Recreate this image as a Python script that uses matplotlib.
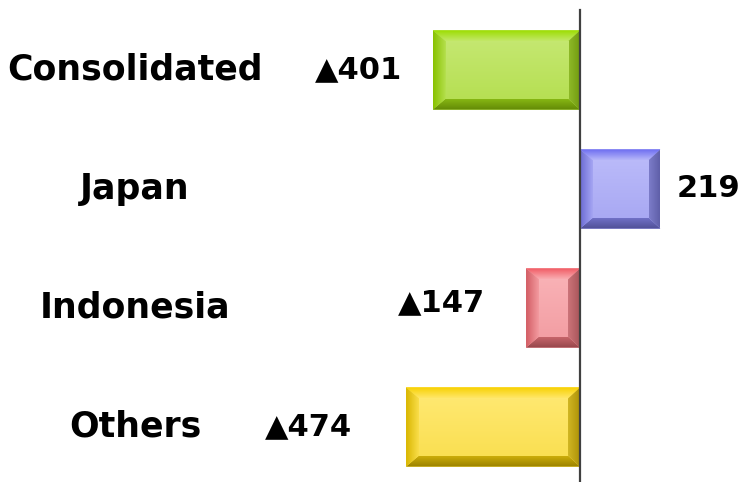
import matplotlib
matplotlib.use("Agg")
import matplotlib.pyplot as plt
from matplotlib.patches import Polygon
from matplotlib.colors import to_rgb, rgb_to_hsv, hsv_to_rgb
import numpy as np

# Year-on-year change by segment
categories = ["Consolidated", "Japan", "Indonesia", "Others"]
values = [-401, 219, -147, -474]

# Styling
face_colors = ["#BCE45C", "#B0B0F8", "#F8A6AB", "#FFE55C"]
label_gap_px = [31, 16, 41, 54]
label_dy_px = [0, 0, 5, 0]

W, H, DPI = 741, 482, 100
fig = plt.figure(figsize=(W / DPI, H / DPI), dpi=DPI)
ax = fig.add_axes([0, 0, 1, 1])

zero_px = 580.0
px_per_unit = 0.367
top_px, step_px = 70.0, 119.0
xlim = (-zero_px / px_per_unit, (W - zero_px) / px_per_unit)
ylim = ((H - top_px) / step_px, -top_px / step_px)
ax.axis("off")

ypos = np.arange(len(categories))
bar_h = 0.665
bars = ax.barh(ypos, values, height=bar_h, color=face_colors, edgecolor="none", zorder=2)


def tone(c, s_mult=1.0, v_mult=1.0, lighten=0.0):
    h, s, v = rgb_to_hsv(np.array(to_rgb(c)))
    rgb = hsv_to_rgb([h, min(1.0, s * s_mult), min(1.0, v * v_mult)])
    return tuple(rgb + (1 - rgb) * lighten)


def gradient_fill(x0, x1, y0, y1, c_start, c_end, horizontal, z):
    t = np.linspace(0, 1, 64)
    a, b = np.array(c_start), np.array(c_end)
    ramp = a[None, :] * (1 - t[:, None]) + b[None, :] * t[:, None]
    img = ramp[None, :, :] if horizontal else ramp[:, None, :]
    return ax.imshow(img, extent=(x0, x1, y1, y0), aspect="auto", zorder=z,
                     interpolation="bilinear")


# bevelled bars: saturated top/left rims, darker bottom/right rims, light face
bev_l, bev_r = 13 / px_per_unit, 12 / px_per_unit
bev_t, bev_b = 11 / step_px, 11 / step_px
for rect, col in zip(bars.patches, face_colors):
    x0, y0 = rect.get_x(), rect.get_y()
    x1 = x0 + rect.get_width()
    xa, xb = min(x0, x1), max(x0, x1)
    ya, yb = y0, y0 + rect.get_height()  # ya = top edge (y axis inverted)
    ix0, ix1 = xa + bev_l, xb - bev_r
    iy0, iy1 = ya + bev_t, yb - bev_b
    sides = [
        # polygon, colour at start, colour at end, horizontal ramp
        ([(xa, ya), (xb, ya), (ix1, iy0), (ix0, iy0)],
         tone(col, 1.9, 0.97), tone(col, 1.1, 1.0, 0.15), False),
        ([(xa, yb), (xb, yb), (ix1, iy1), (ix0, iy1)],
         tone(col, 1.5, 0.80), tone(col, 1.6, 0.60), False),
        ([(xa, ya), (ix0, iy0), (ix0, iy1), (xa, yb)],
         tone(col, 1.7, 0.85), tone(col, 1.1, 0.98), True),
        ([(xb, ya), (ix1, iy0), (ix1, iy1), (xb, yb)],
         tone(col, 1.3, 0.82), tone(col, 1.5, 0.68), True),
    ]
    for pts, c_a, c_b, horiz in sides:
        poly = Polygon(pts, closed=True, facecolor="none", edgecolor="none")
        ax.add_patch(poly)
        xs = [p[0] for p in pts]
        ys = [p[1] for p in pts]
        im = gradient_fill(min(xs), max(xs), min(ys), max(ys), c_a, c_b, horiz, 3)
        im.set_clip_path(poly)
    gradient_fill(ix0, ix1, iy0, iy1, tone(col, 1.0, 1.0, 0.12), tone(col, 1.05, 0.98), False, 4)

ax.set_xlim(*xlim)
ax.set_ylim(*ylim)

# zero axis
ax.plot([0, 0], [ylim[0], (10 - top_px) / step_px], color="#404040", lw=1.6, zorder=5)

# category labels
for y, name in zip(ypos, categories):
    ax.text(135 / W, y, name, transform=ax.get_yaxis_transform(), ha="center", va="center",
            fontsize=25, fontweight="bold", color="black")

# value labels
for y, v, gap, dy in zip(ypos, values, label_gap_px, label_dy_px):
    txt = f"▲{abs(v)}" if v < 0 else f"{v}"
    ax.annotate(txt, (v, y), xytext=(gap * 0.72 * (1 if v > 0 else -1), dy * 0.72),
                textcoords="offset points", ha="left" if v > 0 else "right", va="center",
                fontsize=22, fontweight="bold", color="black")

fig.savefig("out.png", dpi=DPI)
